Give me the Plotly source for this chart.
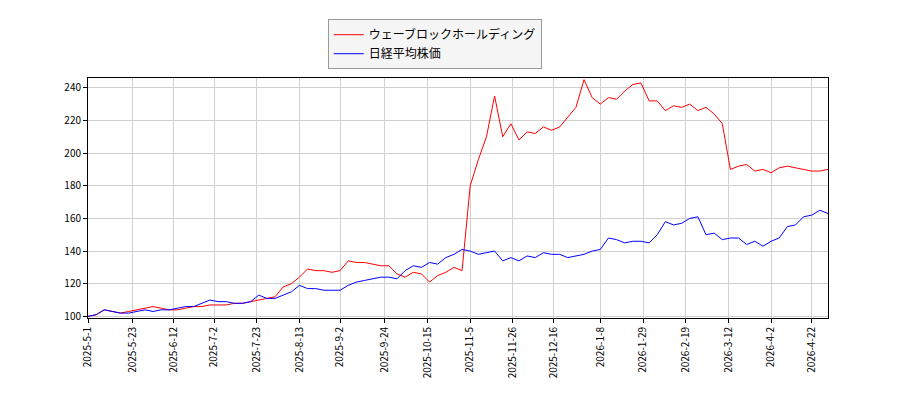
import plotly.graph_objects as go
import pandas as pd

red = [100,101,104,103,102,103,104,105,106,105,104,104,105,106,106,107,107,107,108,108,109,110,111,112,118,120,124,129,128,128,127,128,134,133,133,132,131,131,126,124,127,126,121,125,127,130,128,180,196,210,235,210,218,208,213,212,216,214,216,222,228,245,234,230,234,233,238,242,243,232,232,226,229,228,230,226,228,224,218,190,192,193,189,190,188,191,192,191,190,189,189,190]
blue = [100,101,104,103,102,102,103,104,103,104,104,105,106,106,108,110,109,109,108,108,109,113,111,111,113,115,119,117,117,116,116,116,119,121,122,123,124,124,123,128,131,130,133,132,136,138,141,140,138,139,140,134,136,134,137,136,139,138,138,136,137,138,140,141,148,147,145,146,146,145,150,158,156,157,160,161,150,151,147,148,148,144,146,143,146,148,155,156,161,162,165,163]
tick_labels = ["2025-5-1","2025-5-23","2025-6-12","2025-7-2","2025-7-23","2025-8-13","2025-9-2","2025-9-24","2025-10-15","2025-11-5","2025-11-26","2025-12-16","2026-1-8","2026-1-29","2026-2-19","2026-3-12","2026-4-2","2026-4-22"]
tick_dates = pd.to_datetime(tick_labels)

x_red = pd.date_range("2025-05-01", periods=len(red), freq="4D")
x_blue = pd.date_range("2025-05-01", periods=len(blue), freq="4D")

fig = go.Figure()
fig.add_trace(go.Scatter(x=x_red, y=red, mode="lines", line=dict(color="red", width=1), name="ウェーブロックホールディング"))
fig.add_trace(go.Scatter(x=x_blue, y=blue, mode="lines", line=dict(color="blue", width=1), name="日経平均株価"))
ax = dict(showline=True, linecolor="black", mirror=True, gridcolor="#d0d0d0", ticks="outside", ticklen=4, tickcolor="black", zeroline=False, automargin=False)
fig.update_layout(
    width=900, height=400, margin=dict(l=80, r=80, t=70, b=90, autoexpand=False),
    plot_bgcolor="white", paper_bgcolor="white",
    font=dict(family="Noto Sans CJK JP, DejaVu Sans", size=10, color="black"),
    xaxis=dict(ax, range=["2025-05-01", "2026-04-30"], tickvals=tick_dates, ticktext=tick_labels, tickangle=-90),
    yaxis=dict(ax, range=[99, 246], tickvals=list(range(100, 241, 20))),
    legend=dict(x=0.324, y=1.245, xanchor="left", yanchor="top", bordercolor="#999", borderwidth=1, bgcolor="#f5f5f5", font=dict(size=12)),
)
fig.write_html("out.html")
